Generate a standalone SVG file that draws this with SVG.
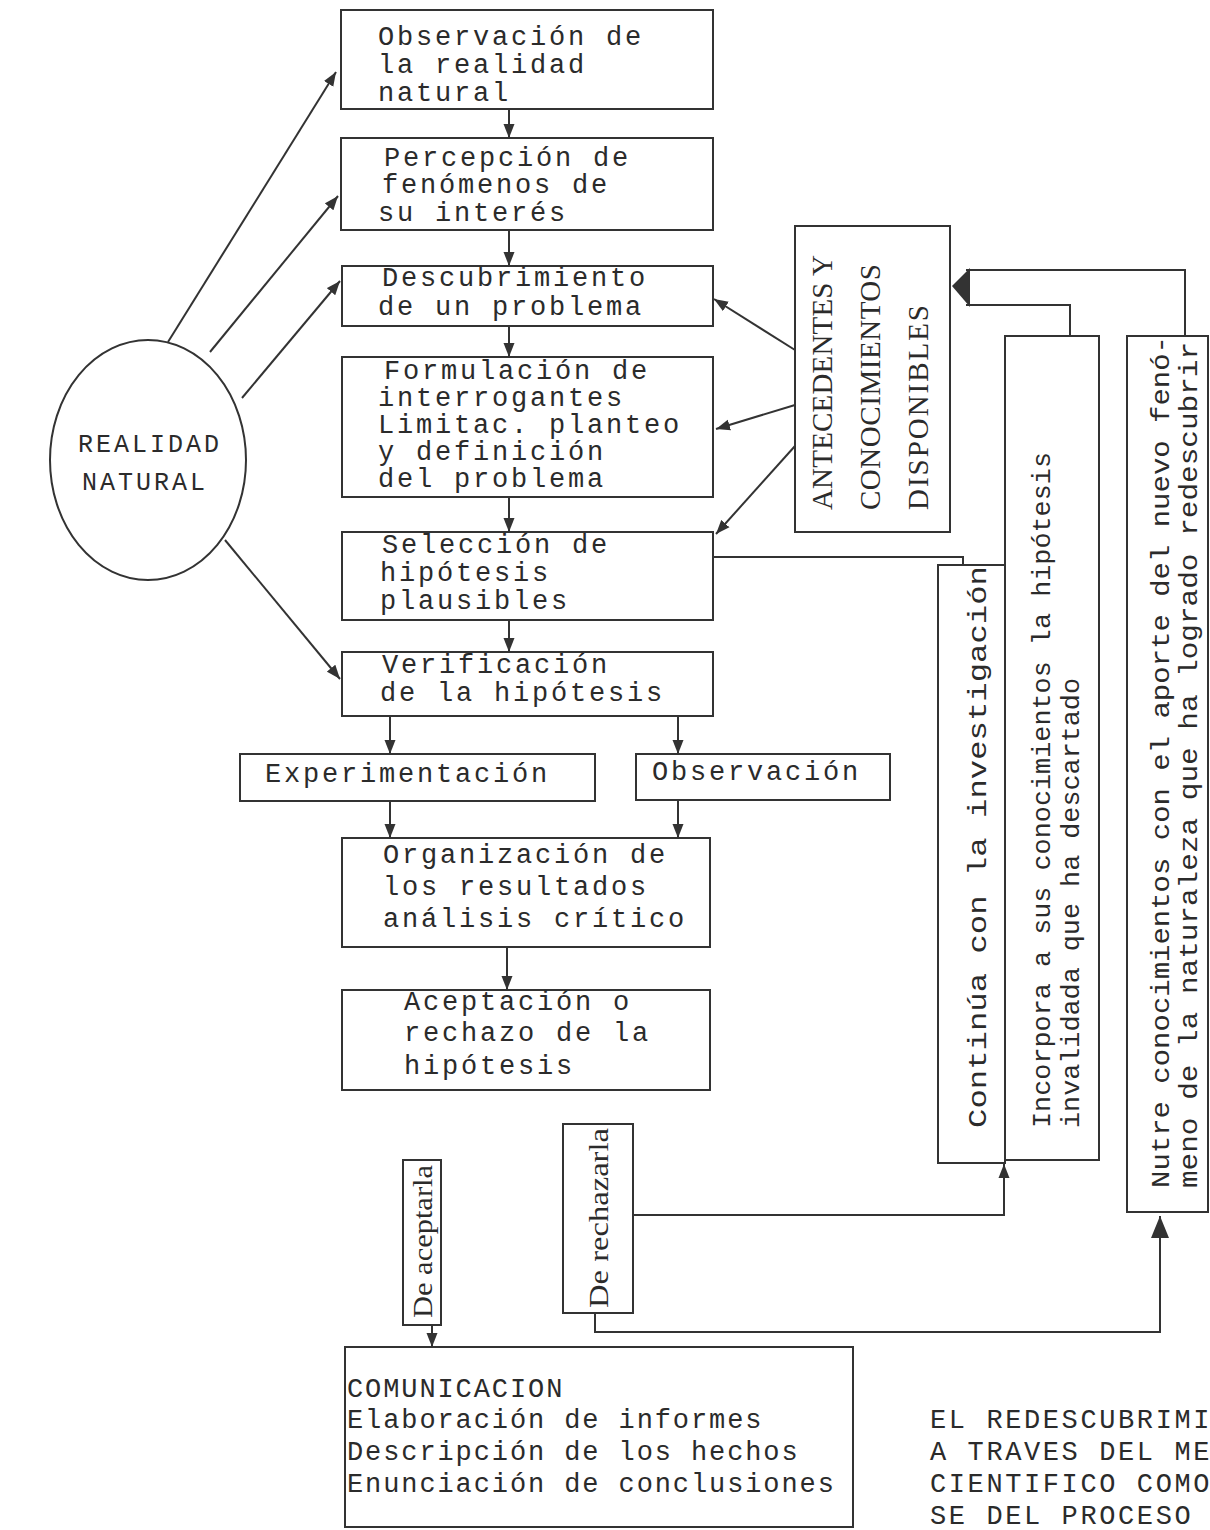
<svg xmlns="http://www.w3.org/2000/svg" width="1210" height="1530" viewBox="0 0 1210 1530">
<defs>
<style>
.bx{fill:none;stroke:#333;stroke-width:2}
.t{font-family:"Liberation Mono",monospace;font-size:27px;letter-spacing:2.8px;fill:#2b2b2b}
.c{font-family:"Liberation Serif",serif;font-size:29px;fill:#2b2b2b}
.r{font-family:"Liberation Mono",monospace;font-size:26px;fill:#2b2b2b}
.s{font-family:"Liberation Serif",serif;font-size:28px;fill:#2b2b2b}
.ln{fill:none;stroke:#333;stroke-width:2}
</style>
<marker id="ah" viewBox="0 0 14 12" refX="14" refY="6" markerWidth="14" markerHeight="12" markerUnits="userSpaceOnUse" orient="auto">
<path d="M0,0.5 L14,6 L0,11.5 z" fill="#333"/>
</marker>
<marker id="ahb" viewBox="0 0 22 18" refX="22" refY="9" markerWidth="22" markerHeight="18" markerUnits="userSpaceOnUse" orient="auto">
<path d="M0,0 L22,9 L0,18 z" fill="#333"/>
</marker>
</defs>
<rect width="1210" height="1530" fill="#ffffff"/>

<g id="realidad">
<ellipse cx="148" cy="460" rx="98" ry="120" class="bx"/>
<text class="t" x="78" y="452" style="font-size:25px;letter-spacing:3px">REALIDAD</text>
<text class="t" x="82" y="490" style="font-size:25px;letter-spacing:3px">NATURAL</text>
</g>

<g id="observacion-realidad">
<rect x="341" y="10" width="372" height="99" class="bx"/>
<text class="t" x="378" y="45">Observación de</text>
<text class="t" x="378" y="73">la realidad</text>
<text class="t" x="378" y="101">natural</text>
</g>

<g id="percepcion">
<rect x="341" y="138" width="372" height="92" class="bx"/>
<text class="t" x="384" y="166">Percepción de</text>
<text class="t" x="382" y="193">fenómenos de</text>
<text class="t" x="378" y="221">su interés</text>
</g>

<g id="descubrimiento">
<rect x="342" y="266" width="371" height="60" class="bx"/>
<text class="t" x="382" y="286">Descubrimiento</text>
<text class="t" x="378" y="315">de un problema</text>
</g>

<g id="formulacion">
<rect x="342" y="357" width="371" height="140" class="bx"/>
<text class="t" x="384" y="379">Formulación de</text>
<text class="t" x="378" y="406">interrogantes</text>
<text class="t" x="378" y="433">Limitac. planteo</text>
<text class="t" x="378" y="460">y definición</text>
<text class="t" x="378" y="487">del problema</text>
</g>

<g id="seleccion">
<rect x="342" y="532" width="371" height="88" class="bx"/>
<text class="t" x="382" y="553">Selección de</text>
<text class="t" x="380" y="581">hipótesis</text>
<text class="t" x="380" y="609">plausibles</text>
</g>

<g id="verificacion">
<rect x="342" y="652" width="371" height="64" class="bx"/>
<text class="t" x="382" y="673">Verificación</text>
<text class="t" x="380" y="701">de la hipótesis</text>
</g>

<g id="experimentacion">
<rect x="240" y="754" width="355" height="47" class="bx"/>
<text class="t" x="265" y="782">Experimentación</text>
</g>

<g id="observacion">
<rect x="636" y="754" width="254" height="46" class="bx"/>
<text class="t" x="652" y="780">Observación</text>
</g>

<g id="organizacion">
<rect x="342" y="838" width="368" height="109" class="bx"/>
<text class="t" x="383" y="863">Organización de</text>
<text class="t" x="383" y="895">los resultados</text>
<text class="t" x="383" y="927">análisis crítico</text>
</g>

<g id="aceptacion">
<rect x="342" y="990" width="368" height="100" class="bx"/>
<text class="t" x="404" y="1010">Aceptación o</text>
<text class="t" x="404" y="1041">rechazo de la</text>
<text class="t" x="404" y="1074">hipótesis</text>
</g>

<g id="antecedentes">
<rect x="795" y="226" width="155" height="306" class="bx"/>
<text class="c" transform="translate(832,510) rotate(-90)" textLength="255" lengthAdjust="spacing">ANTECEDENTES Y</text>
<text class="c" transform="translate(880,510) rotate(-90)" textLength="246" lengthAdjust="spacing">CONOCIMIENTOS</text>
<text class="c" transform="translate(928,510) rotate(-90)" textLength="205" lengthAdjust="spacing">DISPONIBLES</text>
</g>

<g id="continua">
<rect x="938" y="565" width="67" height="598" class="bx"/>
<text class="r" transform="translate(986,1128) rotate(-90)" textLength="562" lengthAdjust="spacingAndGlyphs">Continúa con la investigación</text>
</g>

<g id="incorpora">
<rect x="1005" y="336" width="94" height="824" class="bx"/>
<text class="r" transform="translate(1050,1128) rotate(-90)" textLength="676" lengthAdjust="spacingAndGlyphs">Incorpora a sus conocimientos la hipótesis</text>
<text class="r" transform="translate(1079,1128) rotate(-90)" textLength="450" lengthAdjust="spacingAndGlyphs">invalidada que ha descartado</text>
</g>

<g id="nutre">
<rect x="1127" y="336" width="81" height="876" class="bx"/>
<text class="r" transform="translate(1169,1188) rotate(-90)" textLength="852" lengthAdjust="spacingAndGlyphs">Nutre conocimientos con el aporte del nuevo fenó-</text>
<text class="r" transform="translate(1197,1188) rotate(-90)" textLength="846" lengthAdjust="spacingAndGlyphs">meno de la naturaleza que ha logrado redescubrir</text>
</g>

<g id="de-aceptarla">
<rect x="403" y="1160" width="38" height="165" class="bx"/>
<text class="s" transform="translate(432,1318) rotate(-90)" textLength="153" lengthAdjust="spacingAndGlyphs">De aceptarla</text>
</g>

<g id="de-rechazarla">
<rect x="563" y="1124" width="70" height="189" class="bx"/>
<text class="s" transform="translate(608,1308) rotate(-90)" textLength="180" lengthAdjust="spacingAndGlyphs">De rechazarla</text>
</g>

<g id="comunicacion">
<rect x="345" y="1347" width="508" height="180" class="bx"/>
<text class="t" x="347" y="1397" style="letter-spacing:1.9px">COMUNICACION</text>
<text class="t" x="347" y="1428" style="letter-spacing:1.9px">Elaboración de informes</text>
<text class="t" x="347" y="1460" style="letter-spacing:1.9px">Descripción de los hechos</text>
<text class="t" x="347" y="1492" style="letter-spacing:1.9px">Enunciación de conclusiones</text>
</g>

<g id="titulo">
<text class="t" x="930" y="1428" style="letter-spacing:2.6px">EL REDESCUBRIMI</text>
<text class="t" x="930" y="1460" style="letter-spacing:2.6px">A TRAVES DEL ME</text>
<text class="t" x="930" y="1492" style="letter-spacing:2.6px">CIENTIFICO COMO</text>
<text class="t" x="930" y="1524" style="letter-spacing:2.6px">SE DEL PROCESO</text>
</g>

<g id="connectors">
<line x1="509" y1="109" x2="509" y2="138" class="ln" marker-end="url(#ah)"/>
<line x1="509" y1="230" x2="509" y2="266" class="ln" marker-end="url(#ah)"/>
<line x1="509" y1="326" x2="509" y2="357" class="ln" marker-end="url(#ah)"/>
<line x1="509" y1="497" x2="509" y2="532" class="ln" marker-end="url(#ah)"/>
<line x1="509" y1="620" x2="509" y2="652" class="ln" marker-end="url(#ah)"/>
<line x1="390" y1="716" x2="390" y2="754" class="ln" marker-end="url(#ah)"/>
<line x1="678" y1="716" x2="678" y2="754" class="ln" marker-end="url(#ah)"/>
<line x1="390" y1="801" x2="390" y2="838" class="ln" marker-end="url(#ah)"/>
<line x1="678" y1="800" x2="678" y2="838" class="ln" marker-end="url(#ah)"/>
<line x1="507" y1="947" x2="507" y2="990" class="ln" marker-end="url(#ah)"/>
<line x1="168" y1="342" x2="336" y2="72" class="ln" marker-end="url(#ah)"/>
<line x1="210" y1="352" x2="338" y2="196" class="ln" marker-end="url(#ah)"/>
<line x1="242" y1="398" x2="340" y2="281" class="ln" marker-end="url(#ah)"/>
<line x1="225" y1="540" x2="340" y2="679" class="ln" marker-end="url(#ah)"/>
<line x1="795" y1="350" x2="714" y2="299" class="ln" marker-end="url(#ah)"/>
<line x1="795" y1="405" x2="716" y2="429" class="ln" marker-end="url(#ah)"/>
<line x1="795" y1="446" x2="716" y2="534" class="ln" marker-end="url(#ah)"/>
<polyline points="713,557 963,557 963,565" class="ln"/>
<polyline points="1185,336 1185,270 966,270" class="ln"/>
<polyline points="1070,336 1070,305 966,305" class="ln"/>
<polygon points="952,286 970,268 970,307" fill="#333"/>
<line x1="432" y1="1325" x2="432" y2="1347" class="ln" marker-end="url(#ah)"/>
<polyline points="633,1215 1004,1215 1004,1164" class="ln" marker-end="url(#ah)"/>
<polyline points="595,1313 595,1332 1160,1332 1160,1216" class="ln" marker-end="url(#ahb)"/>
</g>
</svg>
